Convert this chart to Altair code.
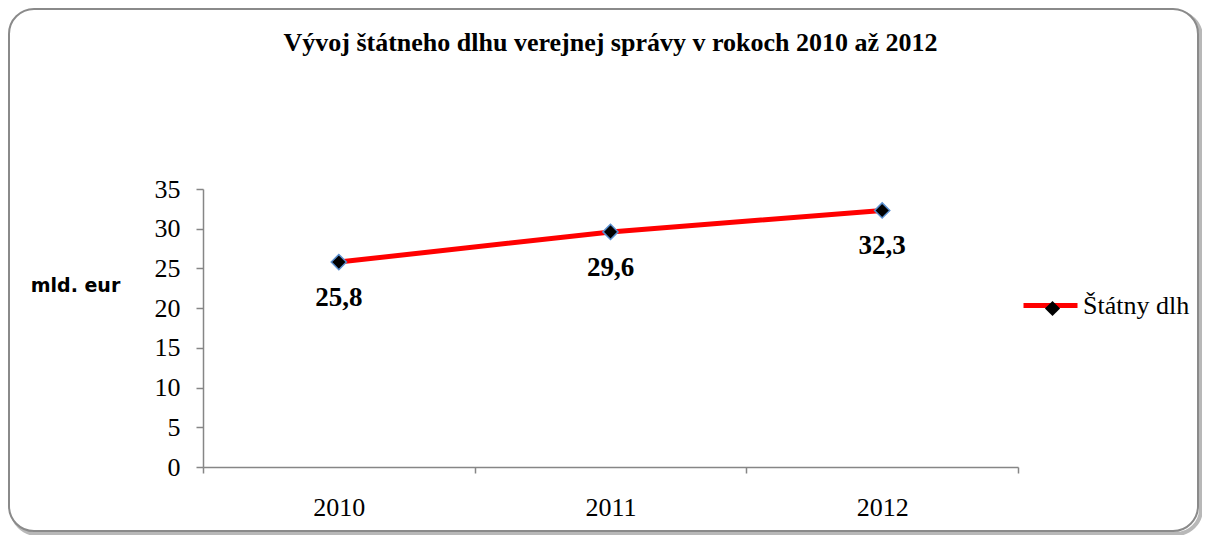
import altair as alt
import pandas as pd

years = ["2010", "2011", "2012"]
values = [25.8, 29.6, 32.3]
value_labels = ["25,8", "29,6", "32,3"]
series_name = "Štátny dlh"
y_ticks = [0, 5, 10, 15, 20, 25, 30, 35]
title_text = "Vývoj štátneho dlhu verejnej správy v rokoch 2010 až 2012"
y_title = "mld. eur"

df = pd.DataFrame({
    "year": years,
    "value": values,
    "label": value_labels,
    "series": [series_name] * len(years),
    "series_pt": [series_name] * len(years),
})

SERIF = "Liberation Serif"
AXIS_GRAY = "#868686"
MARKER_EDGE = "#5a8fcf"

x_enc = alt.X(
    "year:O",
    bandPosition=0.5,
    scale=alt.Scale(type="band", paddingInner=0, paddingOuter=0),
    axis=alt.Axis(
        title=None, labelAngle=0, tickBand="extent", tickSize=6, zindex=1,
        labelPadding=21, labelFont=SERIF, labelFontSize=26, labelColor="black",
        domainColor=AXIS_GRAY, tickColor=AXIS_GRAY, domainWidth=1.5, tickWidth=1.5,
    ),
)
y_enc = alt.Y(
    "value:Q",
    scale=alt.Scale(domain=[0, 35], nice=False),
    axis=alt.Axis(
        values=y_ticks, grid=False, tickSize=7, labelPadding=16, zindex=1,
        labelFont=SERIF, labelFontSize=26, labelColor="black",
        domainColor=AXIS_GRAY, tickColor=AXIS_GRAY, domainWidth=1.5, tickWidth=1.5,
        title=y_title, titleAngle=0, titleFont="DejaVu Sans", titleFontWeight="bold",
        titleFontSize=19, titleColor="black", titleX=-128, titleY=96,
        titleAlign="center", titleBaseline="middle",
    ),
)

frame_df = pd.DataFrame({"k": [0]})
shadow = alt.Chart(frame_df).mark_rect(
    cornerRadius=25, fill="white", stroke="#b8b8b8", strokeWidth=4
).encode(x=alt.value(-191), x2=alt.value(998), y=alt.value(-177), y2=alt.value(345))
border = alt.Chart(frame_df).mark_rect(
    cornerRadius=25, fill="white", stroke="#8a8a8a", strokeWidth=2
).encode(x=alt.value(-194), x2=alt.value(995), y=alt.value(-180), y2=alt.value(342))

base = alt.Chart(df)
line = base.mark_line(strokeWidth=5).encode(
    x=x_enc, y=y_enc,
    color=alt.Color(
        "series:N", scale=alt.Scale(range=["#ff0000"]),
        legend=alt.Legend(
            title=None, orient="none", legendX=818, legendY=87, padding=0,
            symbolType="stroke", symbolSize=2916, symbolStrokeWidth=5,
            labelFont=SERIF, labelFontSize=26, labelColor="black", labelOffset=3,
        ),
    ),
)
points = base.mark_point(
    shape="diamond", filled=True, fill="black", stroke=MARKER_EDGE,
    strokeWidth=1.5, size=230, opacity=1,
).encode(
    x=x_enc, y=y_enc,
    shape=alt.Shape(
        "series_pt:N", scale=alt.Scale(range=["diamond"]),
        legend=alt.Legend(
            title=None, orient="none", legendX=841, legendY=111, padding=0,
            symbolSize=230, symbolFillColor="black", symbolStrokeColor=MARKER_EDGE,
            symbolStrokeWidth=1.5, labelExpr="''",
        ),
    ),
)
labels = base.mark_text(
    font=SERIF, fontSize=27, fontWeight="bold", color="black", dy=36
).encode(x=x_enc, y=y_enc, text="label:N")

chart = alt.layer(shadow, border, line, points, labels).properties(
    width=815, height=278,
    padding={"left": 195, "top": 181, "right": 184, "bottom": 68},
    autosize=alt.AutoSizeParams(type="none"),
    title=alt.TitleParams(
        text=title_text, font=SERIF, fontSize=26, fontWeight="bold",
        color="black", anchor="middle", offset=-69, baseline="alphabetic",
    ),
).configure_view(stroke=None)

chart.save("out.html", embed_options={"renderer": "svg", "actions": False})
